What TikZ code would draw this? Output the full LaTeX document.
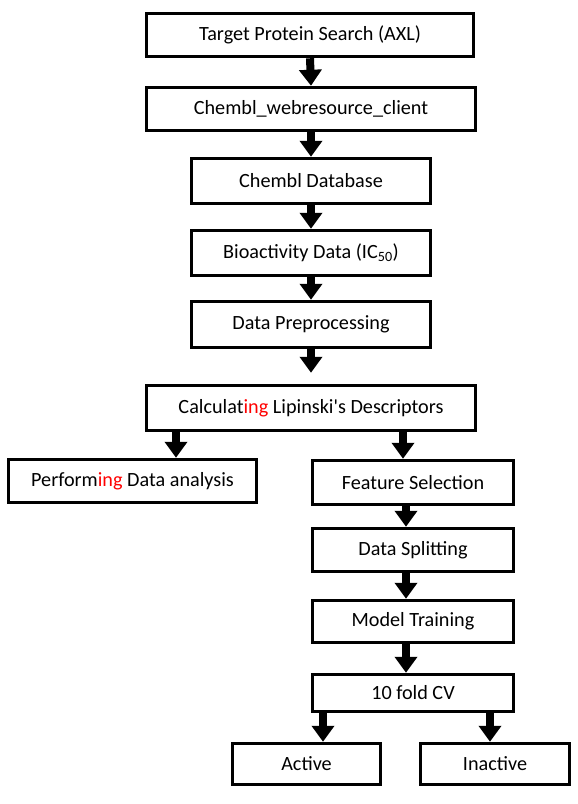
\documentclass[tikz,border=0pt]{standalone}
\usepackage{fontspec}
\setmainfont{Carlito}
\usetikzlibrary{arrows.meta}
\tikzset{
  box/.style={draw=black, line width=3.5pt, fill=white, inner sep=0pt, font=\fontsize{20.2}{23}\selectfont, text=black},
  arr/.style={line width=8pt, -{Triangle[width=22pt,length=16pt]}},
}
\begin{document}
\begin{tikzpicture}[x=1pt,y=-1pt]
\useasboundingbox[fill=white] (0,0) rectangle (578,804);
\node[box, minimum width=327pt, minimum height=43pt] (b1) at (310,35) {Target Protein Search (AXL)};
\node[box, minimum width=329pt, minimum height=43pt] (b2) at (311,109) {Chembl\_webresource\_client};
\node[box, minimum width=239pt, minimum height=45pt] (b3) at (311,181) {Chembl Database};
\node[box, minimum width=239pt, minimum height=45pt] (b4) at (311,253) {Bioactivity Data (IC\textsubscript{50})};
\node[box, minimum width=239pt, minimum height=46pt] (b5) at (311,324.5) {Data Preprocessing};
\node[box, minimum width=329pt, minimum height=45pt] (b6) at (311,408) {Calculat\textcolor{red}{ing} Lipinski\textquotesingle s Descriptors};
\node[box, minimum width=248pt, minimum height=43pt] (b7) at (132.5,481) {Perform\textcolor{red}{ing} Data analysis};
\node[box, minimum width=201pt, minimum height=44pt] (b8) at (413,482.5) {Feature Selection};
\node[box, minimum width=201pt, minimum height=43pt] (b9) at (413,550) {Data Splitting};
\node[box, minimum width=201pt, minimum height=42pt] (b10) at (413,621.5) {Model Training};
\node[box, minimum width=201pt, minimum height=37pt] (b11) at (413,693) {10 fold CV};
\node[box, minimum width=148pt, minimum height=41pt] (b12) at (306.5,764) {Active};
\node[box, minimum width=149pt, minimum height=41pt] (b13) at (495,764) {Inactive};

\draw[arr] (b1.south) -- (b2.north);
\draw[arr] (b2.south) -- (b3.north);
\draw[arr] (b3.south) -- (b4.north);
\draw[arr] (b4.south) -- (b5.north);
\draw[arr, shorten >=11pt] (b5.south) -- (b6.north);
\draw[arr] ([xshift=-135pt]b6.south) -- ([xshift=-135pt]b6.south |- b7.north);
\draw[arr] ([xshift=92pt]b6.south) -- ([xshift=92pt]b6.south |- b8.north);
\draw[arr] ([xshift=-7pt]b8.south) -- ([xshift=-7pt]b9.north);
\draw[arr] ([xshift=-7pt]b9.south) -- ([xshift=-7pt]b10.north);
\draw[arr] ([xshift=-7pt]b10.south) -- ([xshift=-7pt]b11.north);
\draw[arr] ([xshift=-90pt]b11.south) -- ([xshift=-90pt]b11.south |- b12.north);
\draw[arr] ([xshift=77pt]b11.south) -- ([xshift=77pt]b11.south |- b13.north);
\end{tikzpicture}
\end{document}
